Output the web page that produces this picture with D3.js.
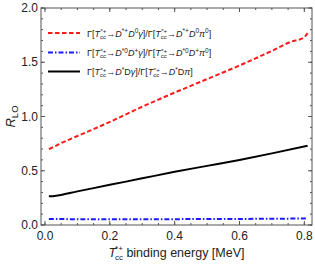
<!DOCTYPE html>
<html>
<head>
<meta charset="utf-8">
<script src="https://cdn.jsdelivr.net/npm/d3@7"></script>
<style>
  body { margin: 0; background: #fff; }
  text { font-family: "Liberation Sans", Arial, sans-serif; }
</style>
</head>
<body>
<div id="chart"></div>
<script>
// values
var redX   = [0.012, 0.027, 0.05, 0.1, 0.2, 0.3, 0.4, 0.5, 0.6, 0.7, 0.76, 0.79, 0.80, 0.81];
var redY   = [0.70, 0.72, 0.755, 0.82, 0.95, 1.09, 1.22, 1.345, 1.47, 1.605, 1.69, 1.715, 1.73, 1.77];
var blueX  = [0.012, 0.2, 0.4, 0.6, 0.81];
var blueY  = [0.055, 0.053, 0.054, 0.056, 0.06];
var blackX = [0.012, 0.03, 0.1, 0.2, 0.3, 0.4, 0.5, 0.6, 0.7, 0.81];
var blackY = [0.265, 0.268, 0.31, 0.37, 0.43, 0.49, 0.545, 0.60, 0.66, 0.73];
var xTicks = [0.0, 0.2, 0.4, 0.6, 0.8];
var yTicks = [0.0, 0.5, 1.0, 1.5, 2.0];

var W = 315, H = 264;
var margin = {top: 8, right: 3, bottom: 39, left: 41};

var svg = d3.select("#chart").append("svg")
   .attr("width", W).attr("height", H);

var x = d3.scaleLinear().domain([-0.0123, 0.8237]).range([margin.left, W - margin.right]);
var y = d3.scaleLinear().domain([0, 2]).range([H - margin.bottom, margin.top]);

function zip(xs, ys){ return xs.map(function(v, i){ return [v, ys[i]]; }); }

var line = d3.line().curve(d3.curveMonotoneX)
   .x(function(d){ return x(d[0]); }).y(function(d){ return y(d[1]); });

// frame
svg.append("rect")
   .attr("x", x.range()[0]).attr("y", y.range()[1])
   .attr("width", x.range()[1] - x.range()[0])
   .attr("height", y.range()[0] - y.range()[1])
   .attr("fill", "none").attr("stroke", "#555").attr("stroke-width", 1);

// ticks on all 4 sides, inward
var xMinor = d3.range(0, 0.83, 0.05);
var yMinor = d3.range(0, 2.01, 0.1);
function xtickSet(vals, len){
   svg.append("g").selectAll("line").data(vals).enter().append("line")
      .attr("x1", function(d){ return x(d); }).attr("x2", function(d){ return x(d); })
      .attr("y1", y(0)).attr("y2", y(0) - len)
      .attr("stroke", "#555");
   svg.append("g").selectAll("line").data(vals).enter().append("line")
      .attr("x1", function(d){ return x(d); }).attr("x2", function(d){ return x(d); })
      .attr("y1", y(2)).attr("y2", y(2) + len)
      .attr("stroke", "#555");
}
xtickSet(xTicks, 4);
xtickSet(xMinor, 2);
function ytickSet(vals, len){
   svg.append("g").selectAll("line").data(vals).enter().append("line")
      .attr("x1", x.range()[0]).attr("x2", x.range()[0] + len)
      .attr("y1", function(d){ return y(d); }).attr("y2", function(d){ return y(d); })
      .attr("stroke", "#555");
   svg.append("g").selectAll("line").data(vals).enter().append("line")
      .attr("x1", x.range()[1]).attr("x2", x.range()[1] - len)
      .attr("y1", function(d){ return y(d); }).attr("y2", function(d){ return y(d); })
      .attr("stroke", "#555");
}
ytickSet(yTicks, 4);
ytickSet(yMinor, 2);

// tick labels
svg.append("g").selectAll("text").data(xTicks).enter().append("text")
   .attr("x", function(d){ return x(d); }).attr("y", y(0) + 15)
   .attr("text-anchor", "middle").attr("font-size", 12).attr("fill", "#222")
   .text(function(d){ return d.toFixed(1); });
svg.append("g").selectAll("text").data(yTicks).enter().append("text")
   .attr("x", x.range()[0] - 3).attr("y", function(d){ return y(d) + 4; })
   .attr("text-anchor", "end").attr("font-size", 12).attr("fill", "#222")
   .text(function(d){ return d.toFixed(1); });

// axis titles
var yl = svg.append("text")
   .attr("transform", "translate(15," + ((y(0) + y(2)) / 2) + ") rotate(-90)")
   .attr("text-anchor", "middle").attr("font-size", 13).attr("fill", "#222");
yl.append("tspan").attr("font-style", "italic").text("R");
yl.append("tspan").attr("font-size", 9.5).attr("dy", 3).text("LO");

var xl = svg.append("text")
   .attr("x", (x.range()[0] + x.range()[1]) / 2).attr("y", 257)
   .attr("text-anchor", "middle").attr("font-size", 12.5).attr("fill", "#222");
xl.append("tspan").attr("font-style", "italic").text("T");
xl.append("tspan").attr("font-size", 8).attr("dy", 3).attr("dx", -1).text("cc");
xl.append("tspan").attr("font-size", 8).attr("dy", -9).attr("dx", -8).text("*+");
xl.append("tspan").attr("dy", 6).text(" binding energy [MeV]");

// curves
svg.append("path").datum(zip(blueX, blueY)).attr("d", line)
   .attr("fill", "none").attr("stroke", "#1a1aff").attr("stroke-width", 2)
   .attr("stroke-dasharray", "5,2,1.5,2");
svg.append("path").datum(zip(blackX, blackY)).attr("d", line)
   .attr("fill", "none").attr("stroke", "#000").attr("stroke-width", 2);
svg.append("path").datum(zip(redX, redY)).attr("d", line)
   .attr("fill", "none").attr("stroke", "#ff1a1a").attr("stroke-width", 2)
   .attr("stroke-dasharray", "4.5,2.5");

// legend
var legend = [
   {color: "#ff1a1a", dash: "4.5,2.5", a: "*+", d1: "*+", d2: "0", num: "γ", den: "π", pi: "0"},
   {color: "#1a1aff", dash: "5,2,1.5,2", a: "*+", d1: "*0", d2: "+", num: "γ", den: "π", pi: "0"},
   {color: "#000", dash: null, a: "*+", d1: "*", d2: "", num: "γ", den: "π", pi: ""}
];
var legY = [33, 52.5, 71.5];

legend.forEach(function(l, i){
   var ly = legY[i];
   svg.append("line").attr("x1", 48).attr("x2", 80).attr("y1", ly).attr("y2", ly)
      .attr("stroke", l.color).attr("stroke-width", 2)
      .attr("stroke-dasharray", l.dash);
   var t = svg.append("text").attr("x", 87).attr("y", ly + 3.5)
      .attr("font-size", 9).attr("fill", "#222");
   function part(sub){
      t.append("tspan").attr("font-style", "italic").text("T");
      t.append("tspan").attr("font-size", 6).attr("dy", 2).text("cc");
      t.append("tspan").attr("font-size", 6).attr("dy", -5.5).attr("dx", -5.5).text(l.a);
      t.append("tspan").attr("dy", 3.5).text("→");
      t.append("tspan").attr("font-style", "italic").text("D");
      t.append("tspan").attr("font-size", 6.5).attr("dy", -3.5).text(l.d1);
      if (l.d2 !== "") {
         t.append("tspan").attr("font-style", "italic").attr("dy", 3.5).text("D");
         t.append("tspan").attr("font-size", 6.5).attr("dy", -3.5).text(l.d2);
         t.append("tspan").attr("font-style", "italic").attr("dy", 3.5).text(sub);
      } else {
         t.append("tspan").attr("dy", 3.5).text("D");
         t.append("tspan").attr("font-style", "italic").text(sub);
      }
   }
   t.append("tspan").text("Γ[");
   part(l.num);
   t.append("tspan").text("]/Γ[");
   part(l.den);
   if (l.pi !== "") {
      t.append("tspan").attr("font-size", 6.5).attr("dy", -3.5).text(l.pi);
      t.append("tspan").attr("dy", 3.5).text("]");
   } else {
      t.append("tspan").text("]");
   }
});
</script>
</body>
</html>
